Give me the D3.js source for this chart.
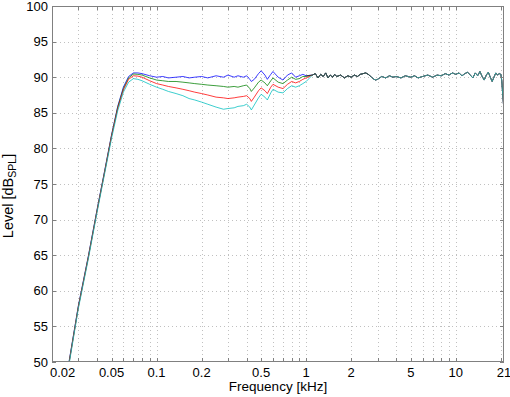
<!DOCTYPE html>
<html><head><meta charset="utf-8">
<script src="https://cdn.jsdelivr.net/npm/d3@7"></script>
<style>
body{margin:0;background:#fff}
text{font-family:"Liberation Sans",Arial,Helvetica,sans-serif;fill:#000}
</style>
</head><body>
<svg id="c" width="510" height="397"></svg>
<script>
// ---------- DATA ----------
const xTickLabels = [0.02, 0.05, 0.1, 0.2, 0.5, 1, 2, 5, 10, 21];
const yTicks = [50, 55, 60, 65, 70, 75, 80, 85, 90, 95, 100];

// rising part (kHz)
const risingFreq = [0.02, 0.025, 0.03, 0.035, 0.04, 0.045, 0.05, 0.055, 0.06, 0.065];
const blueRising  = [36.4, 47.9, 57.9, 64.9, 71.4, 76.9, 81.9, 85.9, 88.6, 90.1];
const greenRising = [36.3, 47.8, 57.8, 64.8, 71.3, 76.8, 81.8, 85.8, 88.4, 89.9];
const redRising   = [36.2, 47.7, 57.7, 64.7, 71.2, 76.7, 81.7, 85.6, 88.2, 89.7];
const cyanRising  = [36.0, 47.5, 57.5, 64.5, 71.0, 76.5, 81.4, 85.3, 87.9, 89.3];

// diverging mid part (kHz)
const midFreq = [0.07,0.075,0.08,0.09,0.1,0.11,0.12,0.135,0.15,0.165,0.18,0.2,0.22,0.25,0.28,0.3,0.33,0.35,0.38,0.4,0.42,0.43,0.45,0.48,0.5,0.53,0.55,0.58,0.6,0.65,0.7,0.75,0.8,0.85,0.9,0.95,1.0];
const blueMid  = [90.6,90.6,90.5,90.2,90.0,90.1,89.9,90.0,90.1,89.9,90.0,90.1,89.9,90.2,90.0,90.3,90.0,90.2,90.0,90.2,89.7,89.4,89.7,90.5,90.9,90.3,89.7,90.4,90.8,90.0,89.6,90.3,90.6,90.0,90.2,90.4,90.2];
const greenMid = [90.45,90.4,90.3,89.9,89.6,89.5,89.4,89.4,89.3,89.2,89.1,89.0,88.9,88.8,88.7,88.6,88.7,88.6,88.8,88.9,88.4,88.0,88.5,89.3,89.6,89.2,88.8,89.5,89.9,89.3,89.1,89.6,90.0,89.7,89.8,90.1,90.1];
const redMid   = [90.2,90.15,90.0,89.5,89.1,88.9,88.7,88.5,88.3,88.1,87.9,87.7,87.5,87.2,87.1,87.0,87.1,87.2,87.3,87.4,87.0,86.6,87.2,88.1,88.5,88.1,87.7,88.6,89.0,88.6,88.4,89.0,89.4,89.2,89.4,89.7,89.9];
const cyanMid  = [89.8,89.7,89.5,89.0,88.6,88.3,88.0,87.7,87.4,87.0,86.8,86.5,86.2,85.8,85.5,85.6,85.7,85.9,86.0,86.2,85.8,85.4,86.1,87.1,87.6,87.2,86.8,87.8,88.3,87.9,87.8,88.4,88.8,88.6,88.8,89.1,89.4];

// shared high part (kHz)
const highFreq = [1.1,1.15,1.2,1.25,1.3,1.35,1.4,1.45,1.5,1.55,1.6,1.7,1.8,1.9,2.0,2.1,2.2,2.3,2.4,2.5,2.6,2.7,2.8,2.9,3.0,3.2,3.4,3.6,3.8,4.0,4.3,4.6,5.0,5.3,5.6,6.0,6.5,7.0,7.5,8.0,8.5,9.0,9.5,10,10.5,11,11.5,12,12.5,13,13.5,14,14.5,15,15.5,16,16.5,17,17.5,18,18.5,19,19.5,20,20.3,20.6,21];
const highLevel = [90.3,90.5,89.9,90.4,90.1,90.6,89.9,90.3,90.0,90.4,90.1,90.3,89.9,90.2,90.0,90.3,90.1,90.4,90.5,90.6,90.4,90.1,89.8,89.6,89.7,90.1,89.9,90.2,90.0,90.1,89.9,90.2,90.0,90.2,89.9,90.1,90.3,90.0,90.3,90.2,90.5,90.3,90.6,90.4,90.6,90.2,90.5,90.7,90.3,89.9,90.6,90.2,90.8,90.1,89.6,90.3,90.7,90.0,89.4,90.0,90.6,90.3,90.5,90.4,89.5,87.5,85.3];

// dark overlapping segment (kHz range)
const darkRange = [1.0, 2.7];

const seriesColors = ["#0000ff", "#008000", "#ff0000", "#00bfbf"];

// ---------- BUILD ----------
function build(rise, mid) {
  const pts = [];
  risingFreq.forEach((f, i) => pts.push([f, rise[i]]));
  midFreq.forEach((f, i) => pts.push([f, mid[i]]));
  highFreq.forEach((f, i) => pts.push([f, highLevel[i]]));
  return pts;
}
const series = [
  build(blueRising, blueMid),
  build(greenRising, greenMid),
  build(redRising, redMid),
  build(cyanRising, cyanMid)
];
const darkPts = [[1.0, blueMid[blueMid.length - 1]]].concat(
  highFreq.map((f, i) => [f, highLevel[i]]).filter(d => d[0] <= darkRange[1]));

const m = {l: 52, r: 504, t: 6, b: 362};
const svg = d3.select("#c");
const x = d3.scaleLog().domain([0.02, 21]).range([m.l, m.r]);
const y = d3.scaleLinear().domain([50, 100]).range([m.b, m.t]);

// grid positions (all log-minor positions)
const gridF = [];
[0.01, 0.1, 1, 10].forEach(dec => {
  for (let k = 1; k <= 9; k++) {
    const f = +(dec * k).toPrecision(3);
    if (f > 0.02 && f < 21) gridF.push(f);
  }
});

const g = svg.append("g");
g.selectAll(".gx").data(gridF).join("line")
  .attr("x1", d => Math.round(x(d)) + 0.5).attr("x2", d => Math.round(x(d)) + 0.5)
  .attr("y1", m.t).attr("y2", m.b)
  .attr("stroke", "#c0c0c0").attr("stroke-width", 1).attr("stroke-dasharray", "1,3");
g.selectAll(".gy").data(yTicks.slice(1, -1)).join("line")
  .attr("x1", m.l).attr("x2", m.r)
  .attr("y1", d => Math.round(y(d)) + 0.5).attr("y2", d => Math.round(y(d)) + 0.5)
  .attr("stroke", "#c0c0c0").attr("stroke-width", 1).attr("stroke-dasharray", "1,3");

svg.append("clipPath").attr("id", "clip").append("rect")
  .attr("x", m.l).attr("y", m.t).attr("width", m.r - m.l).attr("height", m.b - m.t);

const line = d3.line().x(d => x(d[0])).y(d => y(d[1]));
const lg = svg.append("g").attr("clip-path", "url(#clip)");
series.forEach((s, i) => {
  lg.append("path").attr("d", line(s)).attr("fill", "none")
    .attr("stroke", seriesColors[i]).attr("stroke-width", 0.9).attr("stroke-opacity", 0.85);
});
lg.append("path").attr("d", line(darkPts)).attr("fill", "none")
  .attr("stroke", "#333").attr("stroke-width", 0.9).attr("stroke-opacity", 0.8);

// axes box
const ax = svg.append("g");
ax.append("rect").attr("x", m.l + 0.5).attr("y", m.t + 0.5)
  .attr("width", m.r - m.l - 1).attr("height", m.b - m.t - 1)
  .attr("fill", "none").attr("stroke", "#808080").attr("stroke-width", 1);

const allXT = gridF;
ax.selectAll(".tb").data(allXT).join("line")
  .attr("x1", d => Math.round(x(d)) + 0.5).attr("x2", d => Math.round(x(d)) + 0.5)
  .attr("y1", m.b).attr("y2", m.b - 4).attr("stroke", "#808080");
ax.selectAll(".tt").data(allXT).join("line")
  .attr("x1", d => Math.round(x(d)) + 0.5).attr("x2", d => Math.round(x(d)) + 0.5)
  .attr("y1", m.t).attr("y2", m.t + 4).attr("stroke", "#808080");
ax.selectAll(".tl").data(yTicks).join("line")
  .attr("x1", m.l).attr("x2", m.l + 4)
  .attr("y1", d => Math.round(y(d)) + 0.5).attr("y2", d => Math.round(y(d)) + 0.5).attr("stroke", "#808080");
ax.selectAll(".tr").data(yTicks).join("line")
  .attr("x1", m.r).attr("x2", m.r - 4)
  .attr("y1", d => Math.round(y(d)) + 0.5).attr("y2", d => Math.round(y(d)) + 0.5).attr("stroke", "#808080");

// tick labels
ax.selectAll(".xl").data(xTickLabels).join("text")
  .attr("x", (d, i) => i === 0 ? x(d) - 2 : x(d))
  .attr("y", 377)
  .attr("text-anchor", (d, i) => i === 0 ? "start" : "middle")
  .attr("font-size", 13).text(d => String(d));
ax.selectAll(".yl").data(yTicks).join("text")
  .attr("x", 48).attr("y", d => y(d) + 4.5)
  .attr("text-anchor", "end").attr("font-size", 13).text(d => d);

// axis titles
svg.append("text").attr("x", (m.l + m.r) / 2).attr("y", 391)
  .attr("text-anchor", "middle").attr("font-size", 13.5).text("Frequency [kHz]");
const yt = svg.append("text").attr("transform", "translate(13,196) rotate(-90)")
  .attr("text-anchor", "middle").attr("font-size", 14.5);
yt.append("tspan").text("Level [dB");
yt.append("tspan").attr("font-size", 10.5).attr("dy", 3).text("SPL");
yt.append("tspan").attr("dy", -3).text("]");
</script>
</body></html>
